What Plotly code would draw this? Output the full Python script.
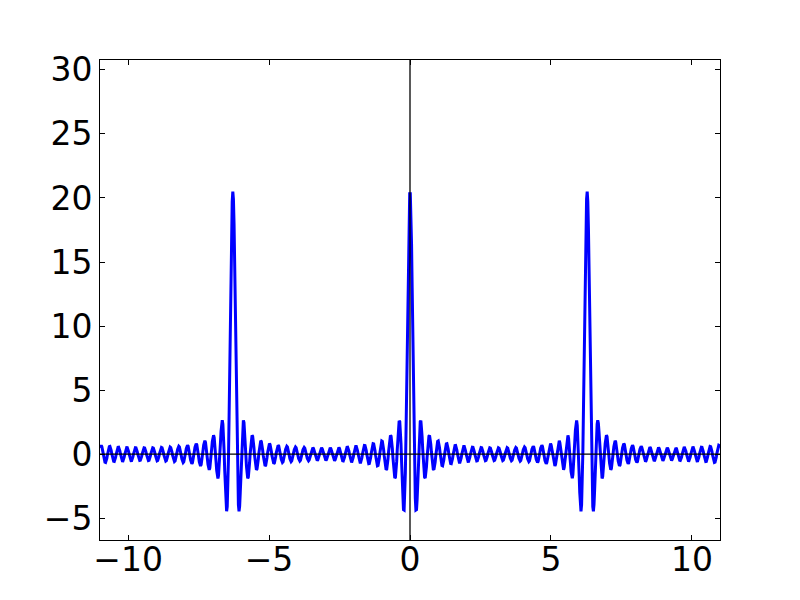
import numpy as np
import plotly.graph_objects as go

# Fourier cosine coefficients of the plotted kernel (constant term then harmonics 1..20)
cos_coeffs = [0.5] + [1.0] * 20
x_limits = [-3.5 * np.pi, 3.5 * np.pi]
y_limits = [-6.7, 30.77]
x_ticks = [-10, -5, 0, 5, 10]
y_ticks = [-5, 0, 5, 10, 15, 20, 25, 30]
n_samples = 1000

x = np.linspace(x_limits[0], x_limits[1], n_samples)
y = sum(c * np.cos(k * x) for k, c in enumerate(cos_coeffs))

fig = go.Figure()
fig.add_trace(go.Scatter(x=x, y=y, mode="lines",
                         line=dict(color="#0000ff", width=3), showlegend=False))

fig.add_shape(type="line", xref="x", yref="paper", x0=0, x1=0, y0=0, y1=1,
              line=dict(color="black", width=1.3), layer="above")
fig.add_shape(type="line", xref="paper", yref="y", x0=0, x1=1, y0=0, y1=0,
              line=dict(color="black", width=1.3), layer="above")

axis_common = dict(showgrid=False, zeroline=False, showline=True, linecolor="black",
                   linewidth=1, mirror="allticks", ticks="inside", ticklen=5,
                   tickcolor="black", tickwidth=1, automargin=False,
                   tickfont=dict(family="DejaVu Sans", size=33, color="black"))

fig.update_xaxes(range=x_limits, tickvals=x_ticks, ticklabelstandoff=-10, **axis_common)
fig.update_yaxes(range=y_limits, tickvals=y_ticks, ticklabelstandoff=0, **axis_common)

fig.update_layout(width=800, height=600, plot_bgcolor="white", paper_bgcolor="white",
                  margin=dict(l=92, r=88, t=52, b=68))

fig.write_html("out.html")
